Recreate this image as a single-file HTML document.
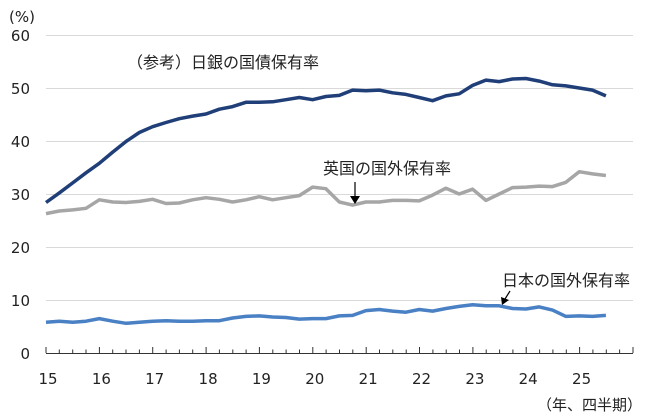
<!DOCTYPE html>
<html><head><meta charset="utf-8"><style>
html,body{margin:0;padding:0;background:#fff;}
svg{display:block;font-family:"Liberation Sans","Noto Sans CJK JP",sans-serif;}
.n{font-family:"DejaVu Sans","Liberation Sans",sans-serif;}
</style></head><body>
<svg id="c" width="650" height="419" viewBox="0 0 650 419" xmlns="http://www.w3.org/2000/svg">
<g stroke="#d9d9d9" stroke-width="1">
<line x1="46" y1="35.5" x2="633" y2="35.5"/>
<line x1="46" y1="88.5" x2="633" y2="88.5"/>
<line x1="46" y1="141.5" x2="633" y2="141.5"/>
<line x1="46" y1="194.5" x2="633" y2="194.5"/>
<line x1="46" y1="247.5" x2="633" y2="247.5"/>
<line x1="46" y1="300.5" x2="633" y2="300.5"/>
</g>
<g class="n" font-size="15" fill="#222" text-anchor="end">
<text x="30" y="41">60</text><text x="30" y="94">50</text><text x="30" y="147">40</text>
<text x="30" y="200">30</text><text x="30" y="253">20</text><text x="30" y="306">10</text><text x="30" y="359">0</text>
</g>
<text class="n" x="9" y="22" font-size="15" fill="#222">(%)</text>
<g id="ticks" stroke="#333" stroke-width="1"></g>
<line x1="46" y1="353.5" x2="633" y2="353.5" stroke="#333" stroke-width="1"/>
<g class="n" font-size="15" fill="#222" text-anchor="middle" id="xl"></g>
<text x="642" y="410" font-size="15" fill="#222" text-anchor="end">（年、四半期）</text>
<polyline id="boj" fill="none" stroke="#203f78" stroke-width="3.5" stroke-linejoin="round"/>
<polyline id="uk" fill="none" stroke="#a6a6a6" stroke-width="3.5" stroke-linejoin="round"/>
<polyline id="jp" fill="none" stroke="#4a80c4" stroke-width="3.5" stroke-linejoin="round"/>
<text x="127" y="68" font-size="16" fill="#222">（参考）日銀の国債保有率</text>
<text x="323" y="174" font-size="16" fill="#222">英国の国外保有率</text>
<line x1="355" y1="182" x2="355" y2="197" stroke="#000" stroke-width="1.2"/>
<polygon points="350,196 360,196 355,204" fill="#000"/>
<text x="502" y="286" font-size="16" fill="#222">日本の国外保有率</text>
<line x1="510" y1="291" x2="505" y2="299" stroke="#000" stroke-width="1.2"/>
<polygon points="501,297 509,300 502,305" fill="#000"/>
</svg>
<script>
var boj=[28.4,30.2,32.1,34,35.8,37.9,39.9,41.6,42.7,43.5,44.2,44.7,45.1,46,46.5,47.3,47.3,47.4,47.8,48.2,47.8,48.4,48.6,49.6,49.5,49.6,49.1,48.8,48.2,47.6,48.5,48.9,50.5,51.5,51.2,51.7,51.8,51.3,50.6,50.4,50,49.6,48.5];
var uk=[26.3,26.8,27,27.3,28.9,28.5,28.4,28.6,29,28.2,28.3,28.9,29.3,29.0,28.5,28.9,29.5,28.9,29.3,29.7,31.3,31,28.5,27.9,28.5,28.5,28.8,28.8,28.7,29.8,31.1,30,30.9,28.8,30,31.2,31.3,31.5,31.4,32.2,34.2,33.8,33.5];
var jp=[5.8,6,5.8,6,6.5,6,5.6,5.8,6,6.1,6,6,6.1,6.1,6.6,6.9,7,6.8,6.7,6.4,6.5,6.5,7,7.1,8,8.2,7.9,7.7,8.2,7.9,8.4,8.8,9.1,8.9,8.9,8.4,8.3,8.7,8.1,6.9,7,6.9,7.1];
function pts(a){return a.map(function(v,i){return (46+i*13.33).toFixed(1)+","+(353-v*5.3).toFixed(1)}).join(" ");}
document.getElementById("boj").setAttribute("points",pts(boj));
document.getElementById("uk").setAttribute("points",pts(uk));
document.getElementById("jp").setAttribute("points",pts(jp));
var t="",l="";
for(var i=0;i<=44;i++){var x=46+i*13.34;var maj=i%4==0;t+='<line x1="'+x.toFixed(1)+'" y1="'+(maj?347:349.5)+'" x2="'+x.toFixed(1)+'" y2="353"/>';
if(maj&&i<44){l+='<text x="'+(x+2).toFixed(1)+'" y="384">'+(15+i/4)+'</text>';}}
document.getElementById("ticks").innerHTML=t;
document.getElementById("xl").innerHTML=l;
</script>
</body></html>
